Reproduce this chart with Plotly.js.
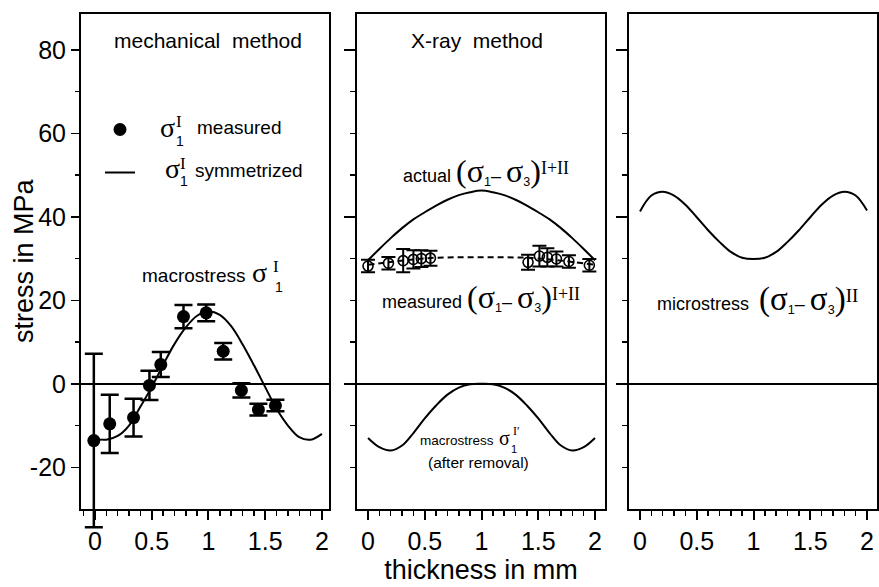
<!DOCTYPE html>
<html>
<head>
<meta charset="utf-8">
<script src="https://cdn.plot.ly/plotly-3.0.1.min.js"></script>
<style>html,body{margin:0;padding:0;background:#fff;}#chart{width:879px;height:587px;}</style>
</head>
<body>
<div id="chart"></div>
<script>
// ---------- data ----------
// left panel: mechanical method, measured sigma_1^I with error bars
const mechX   = [-0.01, 0.13, 0.34, 0.48, 0.58, 0.78, 0.98, 1.13, 1.29, 1.44, 1.59];
const mechY   = [-13.6, -9.6, -8.1, -0.4, 4.6, 16.1, 17.0, 7.8, -1.6, -6.2, -5.2];
const mechErr = [20.8, 7.0, 4.5, 3.5, 3.0, 2.8, 2.0, 2.0, 1.7, 1.4, 1.4];
// left panel: symmetrized curve
const symX = [0.0, 0.1, 0.2, 0.3, 0.4, 0.5, 0.6, 0.7, 0.8, 0.9, 1.0, 1.1, 1.2, 1.3, 1.4, 1.5, 1.6, 1.7, 1.8, 1.9, 2.0];
const symY = [-13.2, -13.4, -12.5, -10.0, -5.5, -0.8, 4.5, 9.5, 13.5, 16.3, 17.3, 16.5, 13.8, 9.5, 4.5, -0.8, -6.0, -10.0, -12.8, -13.4, -12.0];
// middle panel: X-ray method
const xrX   = [0.0, 0.18, 0.31, 0.40, 0.47, 0.55, 1.41, 1.51, 1.58, 1.66, 1.77, 1.95];
const xrY   = [28.2, 28.9, 29.5, 29.8, 30.0, 30.1, 29.1, 30.6, 30.3, 29.9, 29.3, 28.4];
const xrErr = [1.5, 1.5, 2.8, 2.2, 2.0, 1.8, 1.8, 2.5, 2.2, 1.8, 1.5, 1.5];
const measLineX = [0.0, 0.2, 0.4, 0.6, 0.8, 1.0, 1.2, 1.4, 1.6, 1.8, 2.0];
const measLineY = [28.5, 29.2, 29.8, 30.2, 30.3, 30.3, 30.3, 30.2, 29.8, 29.2, 28.5];
const curveX = [0.0, 0.1, 0.2, 0.3, 0.4, 0.5, 0.6, 0.7, 0.8, 0.9, 1.0, 1.1, 1.2, 1.3, 1.4, 1.5, 1.6, 1.7, 1.8, 1.9, 2.0];
const actualY = [29.6, 32.3, 34.9, 37.3, 39.4, 41.1, 42.7, 44.1, 45.2, 45.9, 46.3, 45.9, 45.2, 44.1, 42.7, 41.1, 39.4, 37.3, 34.9, 32.3, 29.6];
const macroAfterY = [-13.0, -15.2, -16.0, -14.8, -11.8, -8.3, -5.2, -2.6, -0.9, -0.1, 0.0, -0.1, -0.9, -2.6, -5.2, -8.3, -11.8, -14.8, -16.0, -15.2, -13.0];
// right panel: microstress
const microY = [41.3, 45.1, 46.0, 45.1, 42.9, 39.9, 36.8, 34.0, 31.6, 30.2, 29.9, 30.2, 31.6, 34.0, 36.8, 39.9, 42.9, 45.1, 46.0, 45.1, 41.5];
// tick labels
const xTickVals = [0, 0.5, 1, 1.5, 2];
const xTickText = ['0', '0.5', '1', '1.5', '2'];
const yTickVals = [-20, 0, 20, 40, 60, 80];
const yTickText = ['-20', '0', '20', '40', '60', '80'];

// ---------- style ----------
const W = 879, H = 587;
const SANS = 'Liberation Sans, Arial, Helvetica, sans-serif';
const SERIF = 'Liberation Serif, Times New Roman, serif';
const BLACK = '#000000';
const yDom = [1 - 509 / H, 1 - 14 / H];

function xAxis(dom, range, anchor, extra) {
  return Object.assign({
    domain: dom, range: range, anchor: anchor,
    showline: true, mirror: true, linecolor: BLACK, linewidth: 2,
    showgrid: false, zeroline: false,
    tickmode: 'array', tickvals: xTickVals, ticktext: xTickText,
    ticks: 'outside', ticklen: 9, tickwidth: 2, tickcolor: BLACK,
    minor: {dtick: 0.1, tick0: 0, ticks: 'outside', ticklen: 5, tickwidth: 1.5, tickcolor: BLACK},
    tickfont: {family: SANS, size: 25, color: BLACK}
  }, extra || {});
}
function yAxis(anchor, labelled) {
  const a = {
    domain: yDom, range: [-30, 88.6], anchor: anchor,
    showline: true, mirror: true, linecolor: BLACK, linewidth: 2,
    showgrid: false, zeroline: true, zerolinecolor: BLACK, zerolinewidth: 1.5,
    ticks: 'outside', tickcolor: BLACK, tickwidth: 1.5,
    tickfont: {family: SANS, size: 25, color: BLACK}
  };
  if (labelled) {
    a.tickmode = 'array'; a.tickvals = yTickVals; a.ticktext = yTickText;
    a.ticklen = 8;
    a.minor = {tickvals: [-10, 10, 30, 50, 70], ticks: 'outside', ticklen: 4, tickwidth: 1.5, tickcolor: BLACK};
  } else {
    a.tickmode = 'array'; a.tickvals = [0, 40, 80];
    a.ticklen = 11; a.showticklabels = false;
    a.minor = {tickvals: [-20, -10, 10, 20, 30, 50, 60, 70], ticks: 'outside', ticklen: 5, tickwidth: 1.5, tickcolor: BLACK};
  }
  return a;
}

const traces = [
  // measured points live on an invisible twin of the left panel whose area reaches lower,
  // so the long error bar of the first point can run past the frame as in the original
  {x: mechX, y: mechY, xaxis: 'x4', yaxis: 'y4', type: 'scatter', mode: 'markers',
   name: ' ', legendgroup: 'a', showlegend: true,
   marker: {size: 13, color: BLACK},
   error_y: {type: 'data', array: mechErr, visible: true, color: BLACK, thickness: 2.5, width: 9}},
  {x: symX, y: symY, xaxis: 'x', yaxis: 'y', type: 'scatter', mode: 'lines',
   name: ' ', legendgroup: 'b', showlegend: true,
   line: {color: BLACK, width: 2, shape: 'spline'}},
  {x: curveX, y: actualY, xaxis: 'x2', yaxis: 'y2', type: 'scatter', mode: 'lines', showlegend: false,
   line: {color: BLACK, width: 2, shape: 'spline'}},
  {x: measLineX, y: measLineY, xaxis: 'x2', yaxis: 'y2', type: 'scatter', mode: 'lines', showlegend: false,
   line: {color: BLACK, width: 2, dash: '6px,4px', shape: 'spline'}},
  {x: xrX, y: xrY, xaxis: 'x2', yaxis: 'y2', type: 'scatter', mode: 'markers', showlegend: false,
   marker: {symbol: 'circle-open', size: 10, color: BLACK, line: {width: 1.6, color: BLACK}},
   error_y: {type: 'data', array: xrErr, visible: true, color: BLACK, thickness: 2, width: 7}},
  {x: curveX, y: macroAfterY, xaxis: 'x2', yaxis: 'y2', type: 'scatter', mode: 'lines', showlegend: false,
   line: {color: BLACK, width: 2, shape: 'spline'}},
  {x: curveX, y: microY, xaxis: 'x3', yaxis: 'y3', type: 'scatter', mode: 'lines', showlegend: false,
   line: {color: BLACK, width: 2, shape: 'spline'}}
];

function ann(text, px, py, size, family, xanchor, angle) {
  const a = {text: text, xref: 'paper', yref: 'paper', x: px / W, y: 1 - py / H,
    xanchor: xanchor || 'center', yanchor: 'middle', showarrow: false,
    font: {family: family || SANS, size: size, color: BLACK}};
  if (angle) a.textangle = angle;
  return a;
}
const big = (s, sz) => '<span style="font-family:' + SERIF + ';font-size:' + sz + 'px">' + s + '</span>';
const supS = (s, sz) => '<sup><span style="font-family:' + SERIF + ';font-size:' + sz + 'px">' + s + '</span></sup>';
const diff = (sz, supTxt, supSz) => big('(σ', sz) + '<sub>1</sub>– ' + big('σ', sz) + '<sub>3</sub>' + big(')', sz) + supS(supTxt, supSz);

const annotations = [
  ann('stress in MPa', 24, 261, 27, SANS, 'center', -90),
  ann('mechanical\u00a0 method', 208, 40, 21),
  ann('X-ray\u00a0 method', 477, 40, 21),
  // legend labels
  ann('σ', 167, 127, 28, SERIF), ann('I', 179, 121, 17, SERIF), ann('1', 180, 141, 14),
  ann('measured', 195, 128, 19, SANS, 'left'),
  ann('σ', 172, 168, 28, SERIF), ann('I', 183, 163, 17, SERIF), ann('1', 184, 181, 14),
  ann('symmetrized', 193, 170, 19, SANS, 'left'),
  // macrostress label (left)
  ann('macrostress', 193, 275, 19),
  ann('σ', 259, 272, 28, SERIF), ann('I', 276, 266, 17, SERIF), ann('1', 279, 287, 14),
  // middle labels
  ann('actual ' + diff(32, 'I+II', 18), 486, 171, 18),
  ann('measured ' + diff(32, 'I+II', 18), 481, 297, 18),
  ann('macrostress', 457, 440, 13.5),
  ann('σ', 504, 438, 20, SERIF), ann('I\u2032', 516, 431, 12, SERIF), ann('1', 514, 449, 11),
  ann('(after removal)', 478, 463, 15.5),
  // right label
  ann('microstress\u00a0 ' + diff(33, 'II', 19), 757, 299, 18)
];

const layout = {
  width: W, height: H,
  margin: {l: 0, r: 0, t: 0, b: 0},
  paper_bgcolor: '#ffffff', plot_bgcolor: 'rgba(0,0,0,0)',
  showlegend: true,
  legend: {x: 100 / W, y: 1 - 110 / H, xanchor: 'left', yanchor: 'top',
    bgcolor: 'rgba(0,0,0,0)', borderwidth: 0, font: {family: SANS, size: 20},
    tracegroupgap: 14, itemwidth: 30, traceorder: 'grouped'},
  xaxis: xAxis([81 / W, 329 / W], [-0.123, 2.062], 'y'),
  yaxis: yAxis('x', true),
  xaxis2: xAxis([357 / W, 605 / W], [-0.097, 2.088], 'y2',
    {title: {text: 'thickness in mm', font: {family: SANS, size: 27, color: BLACK}, standoff: 6}}),
  yaxis2: yAxis('x2', false),
  xaxis3: xAxis([629 / W, 877 / W], [-0.097, 2.088], 'y3'),
  yaxis3: yAxis('x3', false),
  // invisible twin of the left panel, same scale, area extended down to 535 px
  xaxis4: {domain: [81 / W, 329 / W], range: [-0.123, 2.062], anchor: 'y4', visible: false},
  yaxis4: {domain: [1 - 535 / H, 1 - 14 / H], range: [-36.23, 88.6], anchor: 'x4', visible: false},
  annotations: annotations,
  hovermode: false
};

Plotly.newPlot('chart', traces, layout, {staticPlot: true, displayModeBar: false});
</script>
</body>
</html>
